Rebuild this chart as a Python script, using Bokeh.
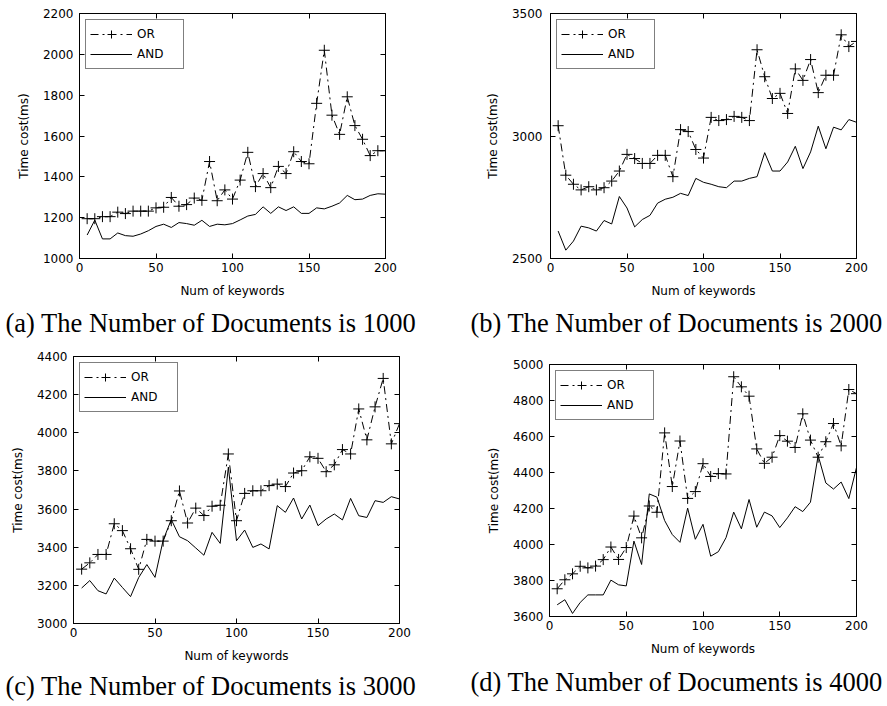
from bokeh.plotting import figure
from bokeh.layouts import column, row
from bokeh.models import (Range1d, FixedTicker, LinearAxis, Legend, LegendItem,
                          Title, CustomJSTickFormatter)
from bokeh.embed import file_html
from bokeh.resources import INLINE

# ---------------- data ----------------
keywords = [5, 10, 15, 20, 25, 30, 35, 40, 45, 50, 55, 60, 65, 70, 75, 80, 85, 90, 95, 100,
            105, 110, 115, 120, 125, 130, 135, 140, 145, 150, 155, 160, 165, 170, 175, 180,
            185, 190, 195, 200]
x_ticks = [0, 50, 100, 150, 200]

or_1000 = [1195, 1195, 1205, 1205, 1227, 1220, 1232, 1232, 1232, 1248, 1251, 1299, 1256, 1264,
           1296, 1285, 1475, 1283, 1336, 1291, 1384, 1520, 1352, 1416, 1347, 1451, 1416, 1523,
           1475, 1464, 1760, 2020, 1702, 1608, 1792, 1651, 1584, 1504, 1528, 1528]
and_1000 = [1115, 1188, 1096, 1096, 1125, 1112, 1109, 1120, 1136, 1157, 1168, 1152, 1176, 1171,
            1163, 1187, 1157, 1168, 1165, 1171, 1189, 1208, 1216, 1253, 1221, 1253, 1235, 1253,
            1221, 1221, 1248, 1243, 1256, 1272, 1309, 1288, 1291, 1309, 1317, 1315]
yticks_1000 = [1000, 1200, 1400, 1600, 1800, 2000, 2200]

or_2000 = [3042, 2840, 2803, 2780, 2793, 2780, 2789, 2816, 2857, 2925, 2908, 2888, 2888, 2921,
           2921, 2834, 3026, 3018, 2945, 2910, 3076, 3063, 3067, 3080, 3076, 3063, 3352, 3242,
           3153, 3174, 3092, 3274, 3227, 3312, 3177, 3248, 3248, 3413, 3365, 3386]
and_2000 = [2612, 2534, 2571, 2632, 2625, 2612, 2655, 2641, 2753, 2706, 2629, 2659, 2676, 2726,
            2742, 2750, 2766, 2757, 2827, 2811, 2803, 2793, 2789, 2816, 2816, 2827, 2834, 2932,
            2857, 2857, 2894, 2958, 2867, 2935, 3040, 2948, 3036, 3025, 3067, 3056]
yticks_2000 = [2500, 3000, 3500]

or_3000 = [3285, 3318, 3362, 3362, 3523, 3487, 3392, 3284, 3441, 3432, 3432, 3539, 3695, 3527,
           3605, 3566, 3615, 3620, 3889, 3539, 3682, 3696, 3696, 3723, 3731, 3718, 3789, 3801,
           3874, 3866, 3796, 3832, 3912, 3889, 4125, 3963, 4136, 4285, 3942, 4048]
and_3000 = [3186, 3225, 3172, 3155, 3238, 3189, 3141, 3241, 3309, 3242, 3437, 3545, 3455, 3434,
            3396, 3358, 3478, 3420, 3820, 3434, 3490, 3399, 3417, 3391, 3618, 3583, 3658, 3548,
            3621, 3513, 3548, 3574, 3543, 3656, 3565, 3556, 3644, 3635, 3665, 3653]
yticks_3000 = [3000, 3200, 3400, 3600, 3800, 4000, 4200, 4400]

or_4000 = [3754, 3804, 3837, 3879, 3870, 3880, 3916, 3986, 3917, 3983, 4158, 4037, 4214, 4179,
           4620, 4322, 4575, 4256, 4294, 4449, 4378, 4394, 4392, 4932, 4876, 4824, 4531, 4451,
           4485, 4605, 4574, 4539, 4726, 4580, 4485, 4571, 4672, 4548, 4861, 4838]
and_4000 = [3665, 3693, 3617, 3678, 3720, 3720, 3720, 3802, 3776, 3770, 4019, 3889, 4281, 4263,
            4133, 4055, 4012, 4202, 4029, 4112, 3935, 3960, 4038, 4180, 4087, 4250, 4096, 4180,
            4159, 4094, 4148, 4210, 4183, 4235, 4495, 4342, 4308, 4347, 4255, 4428]
yticks_4000 = [3600, 3800, 4000, 4200, 4400, 4600, 4800, 5000]

captions = ["(a) The Number of Documents is 1000", "(b) The Number of Documents is 2000",
            "(c) The Number of Documents is 3000", "(d) The Number of Documents is 4000"]
series_labels = ["OR", "AND"]
x_label = "Num of keywords"
y_label = "Time cost(ms)"

AX_FONT = "DejaVu Sans"
CAP_FONT = "Liberation Serif"


def style_axis(ax, ticker):
    ax.ticker = FixedTicker(ticks=ticker)
    ax.major_tick_in = 5
    ax.major_tick_out = 0
    ax.minor_tick_line_color = None
    ax.axis_line_color = "black"
    ax.major_tick_line_color = "black"
    ax.major_label_text_font = AX_FONT
    ax.major_label_text_font_size = "12px"
    ax.major_label_text_color = "black"
    ax.axis_label_text_font = AX_FONT
    ax.axis_label_text_font_size = "12px"
    ax.axis_label_text_font_style = "normal"
    ax.axis_label_text_color = "black"


def blank_axis(ticker):
    ax = LinearAxis(ticker=FixedTicker(ticks=ticker),
                    formatter=CustomJSTickFormatter(code="return ''"))
    ax.major_tick_in = 5
    ax.major_tick_out = 0
    ax.minor_tick_line_color = None
    ax.axis_line_color = None
    ax.major_tick_line_color = "black"
    ax.major_label_text_font_size = "0px"
    ax.major_label_standoff = 0
    return ax


def panel(or_vals, and_vals, yticks, caption, w, h, bl, br, bt, bb, cap_off, cap_standoff,
          ylab_standoff):
    p = figure(width=w, height=h, output_backend="svg", toolbar_location=None,
               x_range=Range1d(0, 200), y_range=Range1d(yticks[0], yticks[-1]),
               min_border_left=bl, min_border_right=br, min_border_top=bt,
               min_border_bottom=bb)
    p.grid.visible = False
    p.outline_line_color = "black"
    p.outline_line_width = 1
    p.background_fill_color = "white"
    p.border_fill_color = "white"

    style_axis(p.xaxis[0], x_ticks)
    style_axis(p.yaxis[0], yticks)
    p.xaxis[0].axis_label = x_label
    p.yaxis[0].axis_label = y_label
    p.xaxis[0].major_label_standoff = 4
    p.xaxis[0].axis_label_standoff = 9
    p.yaxis[0].major_label_standoff = ylab_standoff
    p.yaxis[0].axis_label_standoff = 9

    p.add_layout(blank_axis(yticks), "right")
    p.add_layout(blank_axis(x_ticks), "above")

    r_or_line = p.line(keywords, or_vals, line_color="black", line_width=1,
                       line_dash="8 4 2 4")
    r_or_pts = p.scatter(keywords, or_vals, marker="cross", size=11,
                         line_color="black", line_width=1)
    r_and = p.line(keywords, and_vals, line_color="black", line_width=1)

    leg = Legend(items=[LegendItem(label=series_labels[0], renderers=[r_or_line, r_or_pts]),
                        LegendItem(label=series_labels[1], renderers=[r_and])],
                 location="top_left")
    leg.border_line_color = "black"
    leg.border_line_width = 1
    leg.background_fill_color = "white"
    leg.background_fill_alpha = 1
    leg.label_text_font = AX_FONT
    leg.label_text_font_size = "12px"
    leg.label_text_color = "black"
    leg.glyph_width = 42
    leg.glyph_height = 20
    leg.label_height = 20
    leg.label_width = 42
    leg.label_standoff = 5
    leg.spacing = 0
    leg.padding = 4
    leg.margin = 6
    p.add_layout(leg)

    t = Title(text=caption, align="left", offset=cap_off,
              text_font=CAP_FONT, text_font_size="26.5px", text_font_style="normal",
              text_color="black", standoff=cap_standoff)
    p.add_layout(t, "below")
    return p


pa = panel(or_1000, and_1000, yticks_1000, captions[0], 440, 342, 79, 55, 13, 79, -74, 10, 6)
pb = panel(or_2000, and_2000, yticks_2000, captions[1], 445, 342, 110, 29, 13, 80, -80, 10, 8)
pc = panel(or_3000, and_3000, yticks_3000, captions[2], 440, 362, 73, 41, 14, 81, -68, 6, 6)
pd = panel(or_4000, and_4000, yticks_4000, captions[3], 445, 362, 109, 29, 22, 88, -79, 13, 6)

layout = column(row(column(pa), column(pb)), row(column(pc), column(pd)))

with open("out.html", "w") as f:
    f.write(file_html(layout, INLINE))
